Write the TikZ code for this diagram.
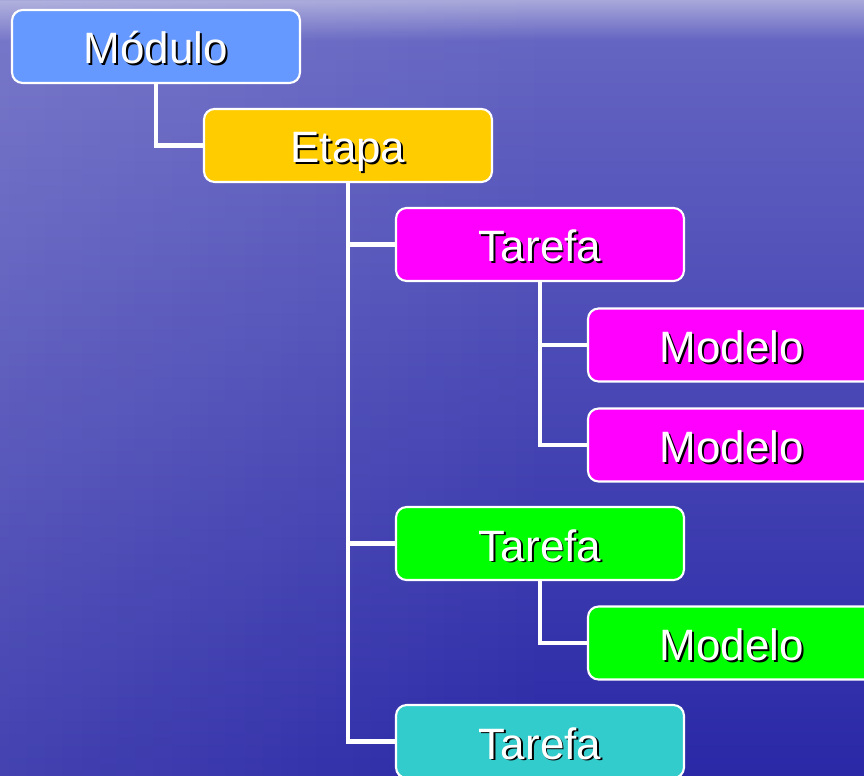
\documentclass[tikz,border=0pt]{standalone}
\usepackage{fontspec}
\setmainfont{Liberation Sans}
\usepackage{tikz}
\usetikzlibrary{calc,fadings}
\definecolor{seatop}{HTML}{A8A8DA}
\definecolor{seaup}{HTML}{6464C2}
\definecolor{seamid}{HTML}{4242B2}
\definecolor{seabot}{HTML}{2A28A6}
\definecolor{modblue}{HTML}{6699FF}
\definecolor{etpyellow}{HTML}{FFCC00}
\definecolor{tarmag}{HTML}{FF00FF}
\definecolor{targreen}{HTML}{00FF00}
\definecolor{tarcyan}{HTML}{33CCCC}
\newcommand{\shtxt}[1]{\rlap{\kern1.1pt\raisebox{-1.1pt}{\color{black}#1}}{\color{white}#1}}
\tikzset{box/.style={draw=white,line width=1.2pt,rounded corners=6pt,minimum width=5.76cm,minimum height=1.46cm,inner sep=0pt,text height=0.8cm,text depth=0.1cm,font=\fontsize{25}{28}\selectfont}}
\tikzset{link/.style={white,line width=2.8pt}}

\begin{document}
\begin{tikzpicture}[x=0.02cm,y=-0.02cm]
          \useasboundingbox (0,0) rectangle (864,776);
          \clip (0,0) rectangle (864,776);
          % sea
          \shade[top color=seaup,middle color=seamid,bottom color=seabot] (0,40) rectangle (864,776);
          \shade[top color=seatop,bottom color=seaup] (0,0) rectangle (864,40.5);
          \fill[white,opacity=0.12,path fading=east] (0,0) rectangle (560,776);
          % links first, boxes on top
          \coordinate (m) at (156,46.5);
          \coordinate (e) at (348,145.5);
          \coordinate (t1) at (540,244.5);
          \coordinate (t2) at (540,543.5);
          \coordinate (t3) at (540,741.5);
          \draw[link] (m) |- (e);
          \draw[link] (e) |- (t1);
          \draw[link] (e) |- (t2);
          \draw[link] (e) |- (t3);
          \node[box,fill=modblue] (modulo) at (m) {\shtxt{Módulo}};
          \node[box,fill=etpyellow] (etapa) at (e) {\shtxt{Etapa}};
          \node[box,fill=tarmag] (tarefa1) at (t1) {\shtxt{Tarefa}};
          \node[box,fill=targreen] (tarefa2) at (t2) {\shtxt{Tarefa}};
          \node[box,fill=tarcyan] (tarefa3) at (t3) {\shtxt{Tarefa}};
          \coordinate (d1) at (732,345);
          \coordinate (d2) at (732,445);
          \coordinate (d3) at (732,643);
          \draw[link] (tarefa1.south) |- (d1);
          \draw[link] (tarefa1.south) |- (d2);
          \draw[link] (tarefa2.south) |- (d3);
          \node[box,fill=tarmag] (modelo1) at (d1) {\shtxt{Modelo}};
          \node[box,fill=tarmag] (modelo2) at (d2) {\shtxt{Modelo}};
          \node[box,fill=targreen] (modelo3) at (d3) {\shtxt{Modelo}};
        \end{tikzpicture}
\end{document}
